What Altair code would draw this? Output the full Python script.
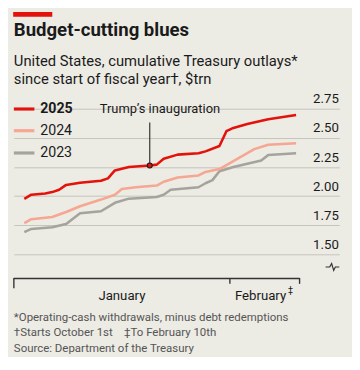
import altair as alt
import pandas as pd

# ---- data ----
# day of year counted from January 1st (=1); February 10th = 41
days_2025 = [2, 3, 5, 6, 7, 8, 10, 13, 14, 15, 17, 20, 21, 22, 24, 27, 28, 30, 31, 32, 34, 37, 41]
vals_2025 = [1.976, 2.012, 2.023, 2.034, 2.054, 2.096, 2.115, 2.132, 2.152, 2.22, 2.25, 2.263,
             2.27, 2.32, 2.356, 2.367, 2.384, 2.43, 2.557, 2.585, 2.618, 2.66, 2.697]
days_2024 = [2, 3, 6, 8, 10, 13, 15, 16, 18, 21, 22, 24, 27, 28, 30, 32, 35, 37, 41]
vals_2024 = [1.768, 1.802, 1.821, 1.863, 1.913, 1.97, 2.012, 2.06, 2.076, 2.09, 2.123, 2.16,
             2.177, 2.207, 2.232, 2.30, 2.403, 2.44, 2.454]
days_2023 = [2, 3, 6, 8, 10, 13, 15, 17, 21, 22, 23, 27, 28, 29, 30, 32, 36, 37, 41]
vals_2023 = [1.69, 1.718, 1.732, 1.76, 1.852, 1.87, 1.942, 1.978, 1.992, 2.012, 2.054, 2.076,
             2.11, 2.137, 2.213, 2.25, 2.305, 2.353, 2.367]

series_names = ["2023", "2024", "2025"]
series_colors = ["#A4A39C", "#F5A792", "#E3120B"]
y_ticks = [1.5, 1.75, 2.0, 2.25, 2.5, 2.75]

inaug_day = 20
inaug_value = 2.263
month_labels = ["January", "February"]
month_centres = [16.5, 36.4]      # day positions of the month labels
month_starts = [1, 32, 42]        # Jan 1, Feb 1, end (after Feb 10)

title = "Budget-cutting blues"
subtitle = ["United States, cumulative Treasury outlays*", "since start of fiscal year\u2020, $trn"]
notes = ["*Operating-cash withdrawals, minus debt redemptions",
         "\u2020Starts October 1st\u00a0\u00a0\u00a0\u00a0\u2021To February 10th",
         "Source: Department of the Treasury"]

FONT = "Roboto"
BG = "#ECEBE4"
TXT = "#1A1A1A"
NOTE = "#555555"

rows = []
for name, ds, vs in [("2023", days_2023, vals_2023), ("2024", days_2024, vals_2024), ("2025", days_2025, vals_2025)]:
    for d, v in zip(ds, vs):
        rows.append({"year": name, "t": d - 0.5, "value": v})
df = pd.DataFrame(rows)

W, H = 333, 149
xs = alt.Scale(domain=[0, 46.7], nice=False, zero=False, padding=0)
ys = alt.Scale(domain=[1.5, 2.75], nice=False, zero=False, padding=0)
cscale = alt.Scale(domain=series_names, range=series_colors)

lines = alt.Chart(df).mark_line(strokeWidth=2.6, strokeJoin="round", strokeCap="butt").encode(
    x=alt.X("t:Q", scale=xs, axis=None),
    y=alt.Y("value:Q", scale=ys, axis=alt.Axis(
        orient="right", values=y_ticks, format=".2f", grid=True, ticks=False, tickSize=0,
        domain=False, labelAlign="right", labelBaseline="bottom", labelPadding=-1,
        labelOffset=-3, labelFont=FONT, labelFontSize=13.5, labelColor=TXT,
        labelOverlap=False, labelBound=False, labelFlush=False,
        gridColor="#C4C3BC", gridWidth=1, title=None)),
    color=alt.Color("year:N", scale=cscale, legend=None),
)

# annotation for inauguration
ann_df = pd.DataFrame({"t": [inaug_day - 0.5], "value": [inaug_value]})
ann_rule = alt.Chart(ann_df).mark_rule(color="#333333", strokeWidth=1.2).encode(
    x=alt.X("t:Q", scale=xs, axis=None), y=alt.Y("value:Q", scale=ys, axis=None), y2=alt.value(14))
ann_pt = alt.Chart(ann_df).mark_point(filled=True, size=26, fill="#E3120B", stroke="#1A1A1A",
                                      strokeWidth=1.1, opacity=1).encode(
    x=alt.X("t:Q", scale=xs, axis=None), y=alt.Y("value:Q", scale=ys, axis=None))
ann_txt = alt.Chart(pd.DataFrame({"label": ["Trump\u2019s inauguration"]})).mark_text(
    font=FONT, fontSize=13.2, color=TXT, align="center", baseline="middle").encode(
    text="label:N", x=alt.value(149.5), y=alt.value(0))

# legend
leg_df = pd.DataFrame({"year": ["2025", "2024", "2023"], "py": [0.3, 22.5, 45.3]})
leg_lines = alt.Chart(leg_df).mark_rule(strokeWidth=3.2).encode(
    x=alt.value(0), x2=alt.value(21), y=alt.Y("py:Q", scale=None),
    color=alt.Color("year:N", scale=cscale, legend=None))
leg_bold = alt.Chart(leg_df[leg_df["year"] == "2025"]).mark_text(
    font=FONT, fontSize=14.5, fontWeight="bold", color=TXT, align="left", baseline="middle").encode(
    x=alt.value(27), y=alt.Y("py:Q", scale=None), text="year:N")
leg_norm = alt.Chart(leg_df[leg_df["year"] != "2025"]).mark_text(
    font=FONT, fontSize=14.5, color=TXT, align="left", baseline="middle").encode(
    x=alt.value(27), y=alt.Y("py:Q", scale=None), text="year:N")

# month bracket
br_df = pd.DataFrame({"a": [month_starts[0] - 1], "b": [month_starts[-1] - 1]})
bracket = alt.Chart(br_df).mark_rule(color="#333333", strokeWidth=1.4).encode(
    x=alt.X("a:Q", scale=xs, axis=None), x2="b:Q", y=alt.value(173.7))
tk_df = pd.DataFrame({"a": [d - 1 for d in month_starts], "len": [10.5, 6, 6]})
tk_df["y1"] = 173.2
tk_df["y2"] = 173.2 + tk_df["len"]
ticks = alt.Chart(tk_df).mark_rule(color="#333333", strokeWidth=1.4).encode(
    x=alt.X("a:Q", scale=xs, axis=None), y=alt.Y("y1:Q", scale=None), y2=alt.Y2("y2:Q"))
mlab = alt.Chart(pd.DataFrame({"m": month_labels, "c": [c - 1 for c in month_centres]})).mark_text(
    font=FONT, fontSize=13.5, color=TXT, align="center", baseline="alphabetic").encode(
    x=alt.X("c:Q", scale=xs, axis=None), y=alt.value(195.5), text="m:N")
feb_mark = alt.Chart(pd.DataFrame({"s": ["\u2021"]})).mark_text(
    font=FONT, fontSize=9, color=TXT, align="left", baseline="alphabetic").encode(
    x=alt.value(280.5), y=alt.value(189), text="s:N")

# broken-axis symbol
brk = alt.Chart(pd.DataFrame({"k": [0]})).mark_point(
    shape="M-1,0L-0.4,0L-0.12,-0.5L0.18,0.5L0.42,0L1,0", filled=False, size=196,
    stroke="#333333", strokeWidth=1.2, opacity=1).encode(x=alt.value(326), y=alt.value(162))

# titles & notes
def txt(s, x, y, size, weight="normal", color=TXT):
    return alt.Chart(pd.DataFrame({"s": [s]})).mark_text(
        font=FONT, fontSize=size, fontWeight=weight, color=color, align="left",
        baseline="alphabetic").encode(text="s:N", x=alt.value(x), y=alt.value(y))

red_bar = alt.Chart(pd.DataFrame({"k": [0]})).mark_rect(color="#E3120B").encode(
    x=alt.value(-0.7), x2=alt.value(39.3), y=alt.value(-99), y2=alt.value(-94))

texts = [
    txt(title, 0, -74, 19, "bold"),
    txt(subtitle[0], 0, -44, 15.1),
    txt(subtitle[1], 0, -25.5, 15.1),
    txt(notes[0], 0, 217.5, 11.7, color=NOTE),
    txt(notes[1], 0, 233, 11.7, color=NOTE),
    txt(notes[2], 0, 248.5, 11.7, color=NOTE),
]

chart = alt.layer(lines, ann_rule, ann_pt, ann_txt, leg_lines, leg_bold, leg_norm, bracket, ticks,
                  mlab, feb_mark, brk, red_bar, *texts).resolve_axis(
    x="independent", y="independent").properties(
    width=W, height=H, background=BG,
    autosize=alt.AutoSizeParams(type="none"),
    padding={"left": 6, "top": 99, "right": 13, "bottom": 101},
).configure_view(stroke=None)

chart.save("out.html", embed_options={"renderer": "svg", "actions": False})
